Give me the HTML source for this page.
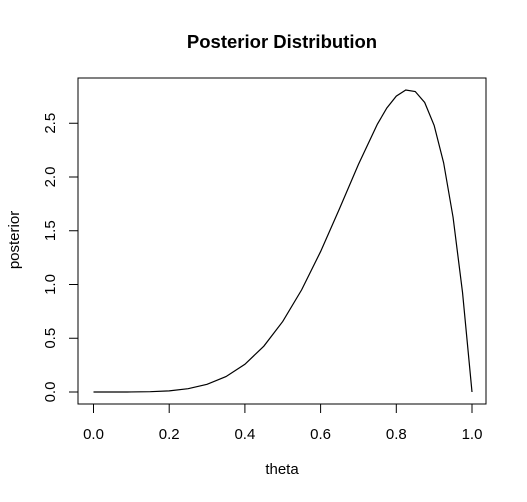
<!DOCTYPE html>
<html><head><meta charset="utf-8"><style>
body{margin:0;background:#fff}
svg{display:block;font-family:"Liberation Sans",Arial,sans-serif}
</style></head><body>
<svg id="chart" width="527" height="502" viewBox="0 0 527 502">
<text x="282" y="48" text-anchor="middle" font-size="18.5" font-weight="bold">Posterior Distribution</text>
<rect x="78" y="78" width="408" height="326" fill="none" stroke="#000" stroke-width="1"/>
<g id="xaxis"></g>
<g id="yaxis"></g>
<text x="282" y="474" text-anchor="middle" font-size="15">theta</text>
<text transform="translate(19,240) rotate(-90)" text-anchor="middle" font-size="15">posterior</text>
<path id="curve" fill="none" stroke="#000" stroke-width="1.2"/>
</svg>
<script>
const thetaValues=[0,0.05,0.1,0.15,0.2,0.25,0.3,0.35,0.4,0.45,0.5,0.55,0.6,0.65,0.7,0.75,0.775,0.8,0.825,0.85,0.875,0.9,0.925,0.95,0.975,1];
const posteriorValues=[0,0,0.0004,0.0027,0.0108,0.0308,0.0714,0.1434,0.258,0.4263,0.6563,0.9512,1.3064,1.7056,2.1177,2.4917,2.642,2.7525,2.809,2.7953,2.693,2.48,2.133,1.6249,0.925,0];
const xTicks=[0,0.2,0.4,0.6,0.8,1];
const xTickLabels=["0.0","0.2","0.4","0.6","0.8","1.0"];
const yTicks=[0,0.5,1,1.5,2,2.5];
const yTickLabels=["0.0","0.5","1.0","1.5","2.0","2.5"];
const NS="http://www.w3.org/2000/svg";
const sx=v=>93.5+v*378.5;
const sy=v=>392-v*107.5;
const xa=document.getElementById('xaxis'),ya=document.getElementById('yaxis');
function mk(tag,attrs,parent){const e=document.createElementNS(NS,tag);for(const k in attrs)e.setAttribute(k,attrs[k]);parent.appendChild(e);return e;}
mk('line',{x1:sx(0),x2:sx(1),y1:404,y2:404,stroke:'#000'},xa);
xTicks.forEach((t,i)=>{
 const l=mk('line',{x1:sx(t),x2:sx(t),y1:404,y2:413,stroke:'#000'},xa);
 
 
 const tx=mk('text',{x:sx(t),y:439,'text-anchor':'middle','font-size':'15'},xa);
 tx.textContent=xTickLabels[i];
 
 
});
mk('line',{x1:78,x2:78,y1:sy(0),y2:sy(2.5),stroke:'#000'},ya);
yTicks.forEach((t,i)=>{
 const l=mk('line',{x1:69,x2:78,y1:sy(t),y2:sy(t),stroke:'#000'},ya);
 
 
 const tx=mk('text',{transform:`translate(55,${sy(t)}) rotate(-90)`,'text-anchor':'middle','font-size':'15'},ya);
 tx.textContent=yTickLabels[i];
 
 
});
document.getElementById('curve').setAttribute('d',thetaValues.map((t,i)=>(i?'L':'M')+sx(t).toFixed(2)+','+sy(posteriorValues[i]).toFixed(2)).join(''));
</script>
</body></html>
